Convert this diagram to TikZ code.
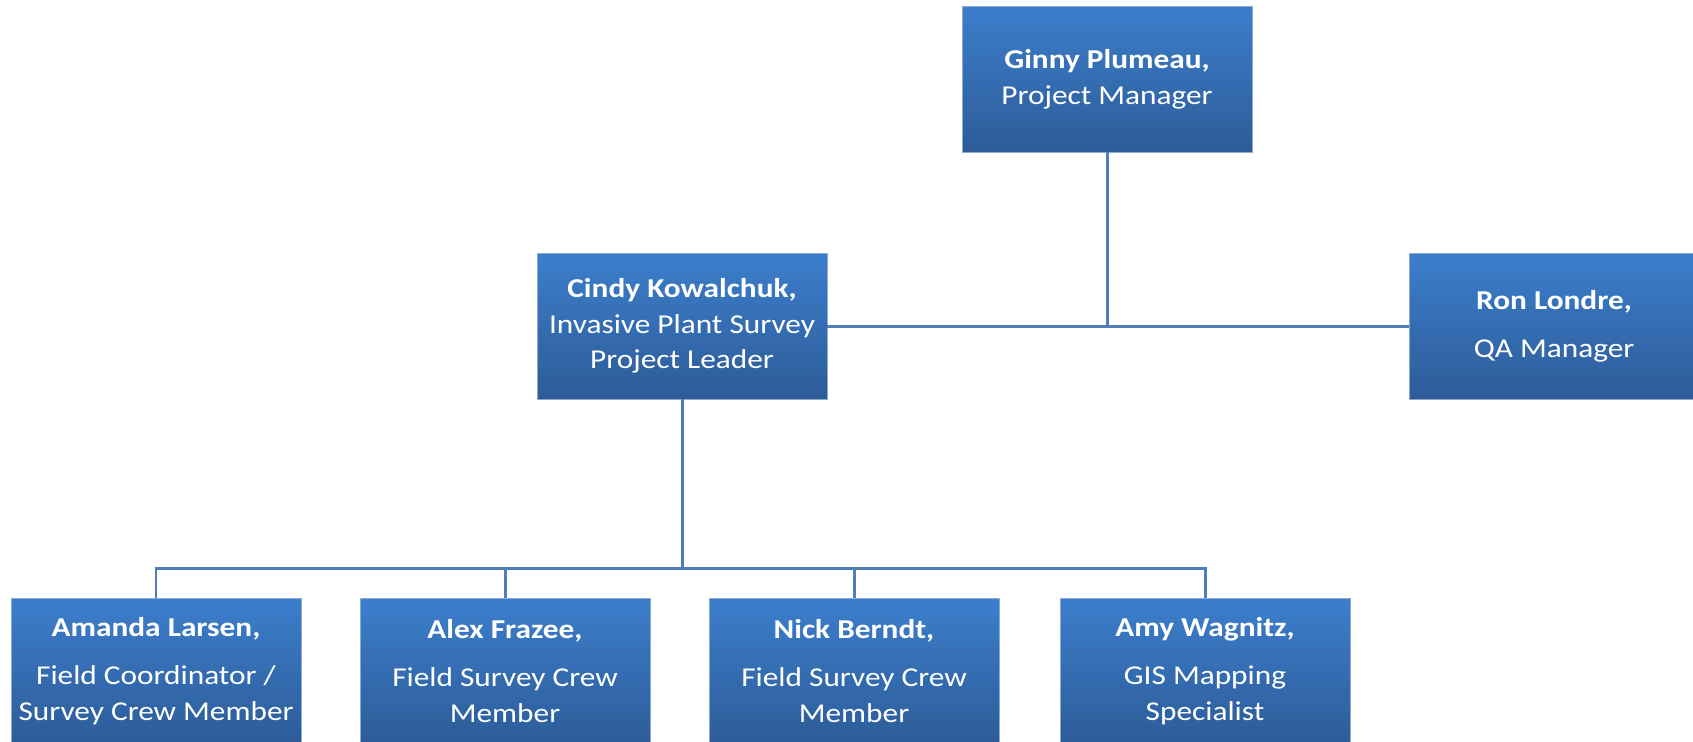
\documentclass[tikz,border=0pt]{standalone}
\usepackage{fontspec}
\setmainfont{Carlito}[FakeStretch=1.15]
\usetikzlibrary{positioning}

\definecolor{boxtop}{RGB}{60,126,204}
\definecolor{boxbottom}{RGB}{45,92,152}
\definecolor{boxedge}{RGB}{140,170,210}
\definecolor{linkblue}{RGB}{79,126,184}

\begin{document}
\begin{tikzpicture}[x=0.02cm,y=-0.02cm,
    box/.style={rectangle,draw=boxedge,line width=0.4pt,top color=boxtop,bottom color=boxbottom,
      text=white,align=center,minimum width=5.8cm,minimum height=2.92cm,inner sep=0pt,
      font=\fontsize{15.5}{20.3}\selectfont},
    link/.style={draw=linkblue,line width=1.7pt}]
        % Frame
        \useasboundingbox (0,0) rectangle (1693,741);

        % Top
        \node[box] (ginny) at (1107,79) {\textbf{Ginny Plumeau,}\\Project Manager};

        % Middle row
        \node[box] (cindy) at (682,326) {\textbf{Cindy Kowalchuk,}\\Invasive Plant Survey\\Project Leader};
        \node[box] (ron) at (1554,326) {\textbf{Ron Londre,}\\[7pt]QA Manager};

        % Bottom row
        \node[box] (amanda) at (156,671) {\textbf{Amanda Larsen,}\\[7pt]Field Coordinator /\\Survey Crew Member};
        \node[box] (alex) at (505,671) {\textbf{Alex Frazee,}\\[7pt]Field Survey Crew\\Member};
        \node[box] (nick) at (854,671) {\textbf{Nick Berndt,}\\[7pt]Field Survey Crew\\Member};
        \node[box] (amy) at (1205,671) {\textbf{Amy Wagnitz,}\\[7pt]GIS Mapping\\Specialist};

        % Connectors
        \draw[link] (ginny.south) -- (ginny.south |- cindy.east);
        \draw[link] (cindy.east) -- (ron.west);
        \coordinate (bus) at (682,568);
        \draw[link] (cindy.south) -- (bus);
        \draw[link] (amanda.north) |- (bus);
        \draw[link] (amy.north) |- (bus);
        \draw[link] (alex.north) -- (alex.north |- bus);
        \draw[link] (nick.north) -- (nick.north |- bus);
      \end{tikzpicture}
\end{document}
